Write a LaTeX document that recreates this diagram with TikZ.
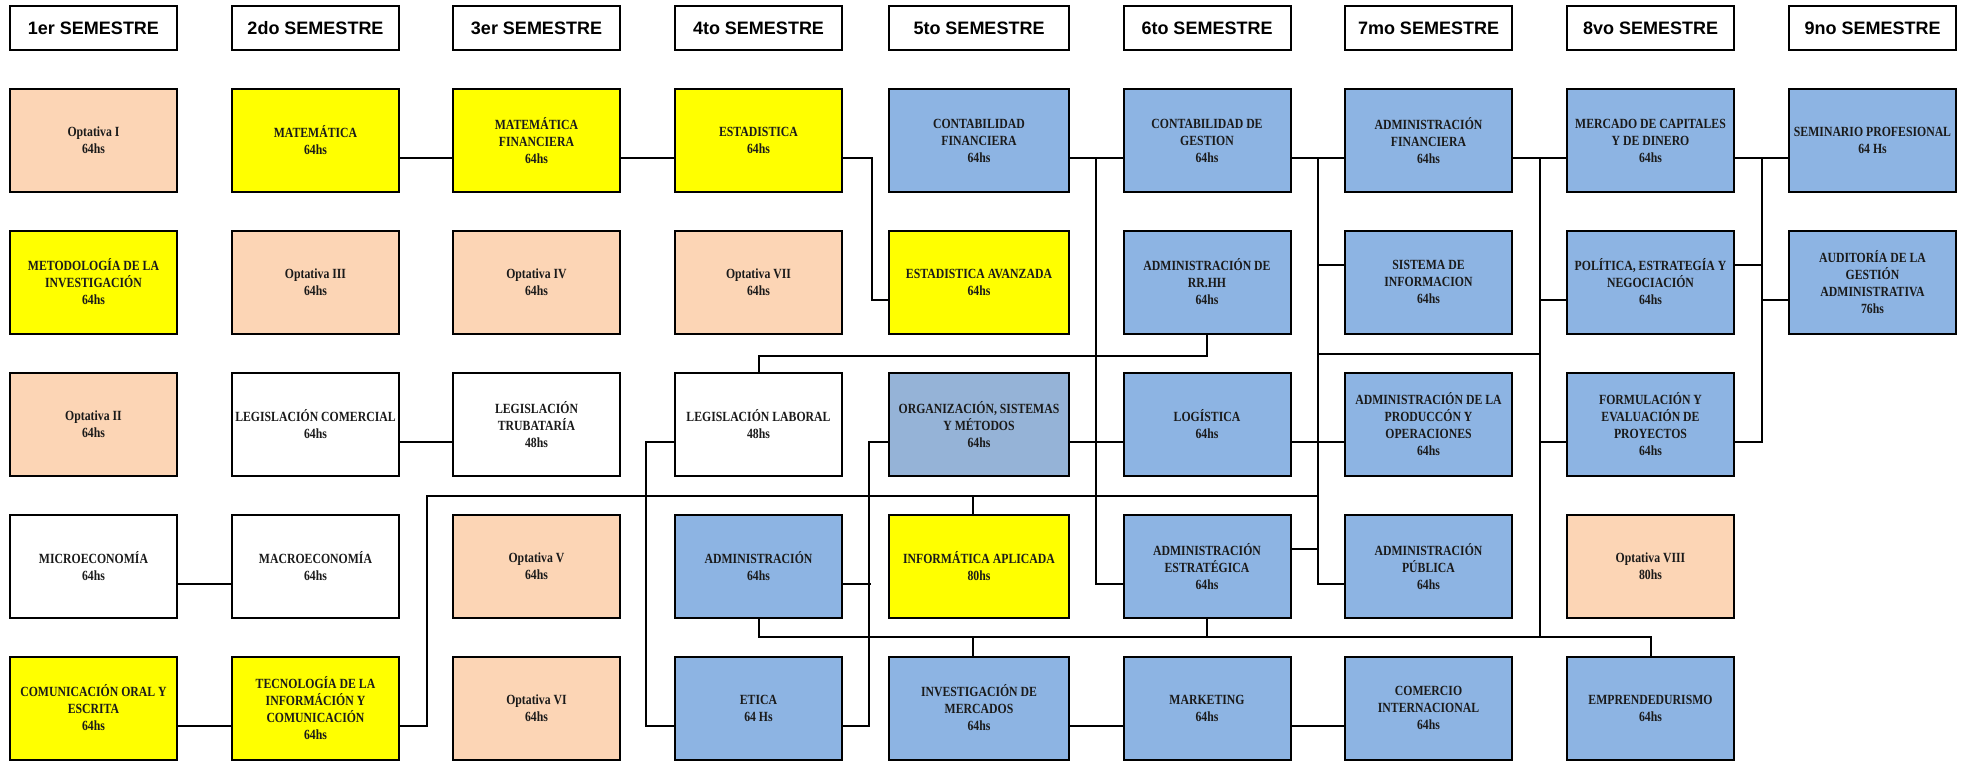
\documentclass[tikz,border=0pt]{standalone}
\usepackage{fontspec}
\setmainfont{Liberation Serif}
\newfontfamily\semfont{Liberation Sans}
\newfontfamily\cursofont[FakeStretch=0.84]{Liberation Serif Bold}
\definecolor{durazno}{HTML}{FCD5B5}
\definecolor{amarillo}{HTML}{FFFF00}
\definecolor{celeste}{HTML}{8DB4E3}
\definecolor{grisazul}{HTML}{95B3D7}
\definecolor{tinta}{HTML}{1A1A1A}
\tikzset{
  curso/.style={draw, line width=2pt, minimum width=167pt, minimum height=103pt,
    inner sep=0pt, align=center, text=tinta,
    font={\cursofont\fontsize{14}{17}\selectfont}},
  opt/.style={curso, fill=durazno},
  obl/.style={curso, fill=amarillo},
  prof/.style={curso, fill=celeste},
  libre/.style={curso, fill=white},
  ancho/.style={minimum width=180pt},
  sem/.style={draw, line width=2pt, minimum height=44pt, inner sep=0pt,
    font={\semfont\bfseries\fontsize{18}{20}\selectfont}},
  enlace/.style={line width=2pt}
}
\begin{document}
\begin{tikzpicture}[x=1pt, y=-1pt]
\useasboundingbox (0,0) rectangle (1969,760);

\foreach \x/\w/\t [count=\i] in {93.5/167/1er, 315.5/167/2do, 536.5/167/3er, 758.5/167/4to,
  979/180/5to, 1207/167/6to, 1428.5/167/7mo, 1650.5/167/8vo, 1872.5/167/9no}
\node[sem, minimum width=\w pt] (sem\i) at (\x,28) {\t{} SEMESTRE};

\node[opt] (optI) at (93.5,140.5) {Optativa I\\64hs};
\node[obl] (metod) at (93.5,282) {METODOLOGÍA DE LA\\INVESTIGACIÓN\\64hs};
\node[opt] (optII) at (93.5,424.5) {Optativa II\\64hs};
\node[libre] (micro) at (93.5,566.5) {MICROECONOMÍA\\64hs};
\node[obl] (comun) at (93.5,708) {COMUNICACIÓN ORAL Y\\ESCRITA\\64hs};

\node[obl] (mat) at (315.5,140.5) {MATEMÁTICA\\64hs};
\node[opt] (optIII) at (315.5,282) {Optativa III\\64hs};
\node[libre] (legcom) at (315.5,424.5) {LEGISLACIÓN COMERCIAL\\64hs};
\node[libre] (macro) at (315.5,566.5) {MACROECONOMÍA\\64hs};
\node[obl] (tecno) at (315.5,708) {TECNOLOGÍA DE LA\\INFORMÁCIÓN Y\\COMUNICACIÓN\\64hs};

\node[obl] (matfin) at (536.5,140.5) {MATEMÁTICA\\FINANCIERA\\64hs};
\node[opt] (optIV) at (536.5,282) {Optativa IV\\64hs};
\node[libre] (legtrib) at (536.5,424.5) {LEGISLACIÓN\\TRUBATARÍA\\48hs};
\node[opt] (optV) at (536.5,566.5) {Optativa V\\64hs};
\node[opt] (optVI) at (536.5,708) {Optativa VI\\64hs};

\node[obl] (estad) at (758.5,140.5) {ESTADISTICA\\64hs};
\node[opt] (optVII) at (758.5,282) {Optativa VII\\64hs};
\node[libre] (leglab) at (758.5,424.5) {LEGISLACIÓN LABORAL\\48hs};
\node[prof] (admin) at (758.5,566.5) {ADMINISTRACIÓN\\64hs};
\node[prof] (etica) at (758.5,708) {ETICA\\64 Hs};

\node[prof, ancho] (contfin) at (979,140.5) {CONTABILIDAD\\FINANCIERA\\64hs};
\node[obl, ancho] (estadav) at (979,282) {ESTADISTICA AVANZADA\\64hs};
\node[curso, ancho, fill=grisazul] (orgsis) at (979,424.5) {ORGANIZACIÓN, SISTEMAS\\Y MÉTODOS\\64hs};
\node[obl, ancho] (infapl) at (979,566.5) {INFORMÁTICA APLICADA\\80hs};
\node[prof, ancho] (invmer) at (979,708) {INVESTIGACIÓN DE\\MERCADOS\\64hs};

\node[prof] (contges) at (1207,140.5) {CONTABILIDAD DE\\GESTION\\64hs};
\node[prof] (rrhh) at (1207,282) {ADMINISTRACIÓN DE\\RR.HH\\64hs};
\node[prof] (logis) at (1207,424.5) {LOGÍSTICA\\64hs};
\node[prof] (admest) at (1207,566.5) {ADMINISTRACIÓN\\ESTRATÉGICA\\64hs};
\node[prof] (mkt) at (1207,708) {MARKETING\\64hs};

\node[prof] (admfin) at (1428.5,140.5) {ADMINISTRACIÓN\\FINANCIERA\\64hs};
\node[prof] (sisinf) at (1428.5,282) {SISTEMA DE\\INFORMACION\\64hs};
\node[prof] (admprod) at (1428.5,424.5) {ADMINISTRACIÓN DE LA\\PRODUCCÓN Y\\OPERACIONES\\64hs};
\node[prof] (admpub) at (1428.5,566.5) {ADMINISTRACIÓN\\PÚBLICA\\64hs};
\node[prof] (comint) at (1428.5,708) {COMERCIO\\INTERNACIONAL\\64hs};

\node[prof] (mercap) at (1650.5,140.5) {MERCADO DE CAPITALES\\Y DE DINERO\\64hs};
\node[prof] (polit) at (1650.5,282) {POLÍTICA, ESTRATEGÍA Y\\NEGOCIACIÓN\\64hs};
\node[prof] (formul) at (1650.5,424.5) {FORMULACIÓN Y\\EVALUACIÓN DE\\PROYECTOS\\64hs};
\node[opt] (optVIII) at (1650.5,566.5) {Optativa VIII\\80hs};
\node[prof] (empren) at (1650.5,708) {EMPRENDEDURISMO\\64hs};

\node[prof] (semin) at (1872.5,140.5) {SEMINARIO PROFESIONAL\\64 Hs};
\node[prof] (audit) at (1872.5,282) {AUDITORÍA DE LA\\GESTIÓN\\ADMINISTRATIVA\\76hs};

\coordinate (b6) at (1096,158);
\coordinate (b7) at (1318,158);
\coordinate (b8) at (1540,158);
\coordinate (b9) at (1762,158);

\begin{scope}[enlace]
\draw (mat.east |- 0,158) -- (matfin.west |- 0,158);
\draw (matfin.east |- 0,158) -- (estad.west |- 0,158);
\draw (estad.east |- 0,158) -- ++(29,0) |- (estadav.west |- 0,300);
\draw (contfin.east |- 0,158) -- (contges.west |- 0,158);
\draw (contges.east |- 0,158) -- (admfin.west |- 0,158);
\draw (admfin.east |- 0,158) -- (mercap.west |- 0,158);
\draw (mercap.east |- 0,158) -- (semin.west |- 0,158);
\draw (b6) |- (admest.west |- 0,584);
\draw (b7) |- (admpub.west |- 0,584);
\draw (b8) -- (b8 |- 0,637);
\draw (b9) |- (formul.east |- 0,442);
\draw (b7 |- 0,265) -- (sisinf.west |- 0,265);
\draw (b7 |- 0,354) -- (b8 |- 0,354);
\draw (b8 |- 0,300) -- (polit.west |- 0,300);
\draw (polit.east |- 0,265) -- (b9 |- 0,265);
\draw (b9 |- 0,300) -- (audit.west |- 0,300);
\draw (b8 |- 0,442) -- (formul.west |- 0,442);
\draw (orgsis.east |- 0,442) -- (logis.west |- 0,442);
\draw (logis.east |- 0,442) -- (admprod.west |- 0,442);
\draw (admest.east |- 0,549) -- (b7 |- 0,549);
\draw (rrhh.south) -- ++(0,21) -| (leglab.north);
\draw (leglab.west |- 0,442) -- ++(-28,0) |- (etica.west |- 0,726);
\draw (orgsis.west |- 0,442) -- ++(-19,0) |- (etica.east |- 0,726);
\draw (admin.east |- 0,584) -- ++(28,0);
\draw (tecno.east |- 0,726) -- ++(27,0) |- (b7 |- 0,496);
\draw ([xshift=-6pt]infapl.north) -- ++(0,-19);
\draw (admin.south) |- (empren.north |- 0,637) -- (empren.north);
\draw ([xshift=-6pt]invmer.north) -- ++(0,-20);
\draw (admest.south) -- (admest.south |- 0,637);
\draw (invmer.east |- 0,726) -- (mkt.west |- 0,726);
\draw (mkt.east |- 0,726) -- (comint.west |- 0,726);
\draw (legcom.east |- 0,442) -- (legtrib.west |- 0,442);
\draw (micro.east |- 0,584) -- (macro.west |- 0,584);
\draw (comun.east |- 0,726) -- (tecno.west |- 0,726);
\end{scope}
\end{tikzpicture}
\end{document}
